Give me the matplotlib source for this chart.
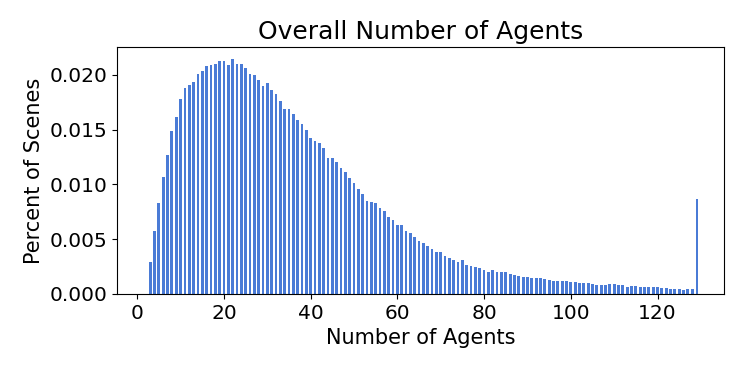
import matplotlib
matplotlib.use("Agg")
import matplotlib.pyplot as plt
import numpy as np

# Number of agents per scene (3..129) and the share of scenes with that count
num_agents = np.arange(3, 130)
percent_scenes = [
    0.00291, 0.00579, 0.00830, 0.01069, 0.01265, 0.01489, 0.01620, 0.01783,
    0.01884, 0.01905, 0.01936, 0.02010, 0.02037, 0.02080, 0.02090, 0.02104,
    0.02126, 0.02132, 0.02095, 0.02147, 0.02098, 0.02104, 0.02065, 0.02013,
    0.01997, 0.01957, 0.01900, 0.01927, 0.01859, 0.01823, 0.01762, 0.01688,
    0.01688, 0.01645, 0.01587, 0.01550, 0.01498, 0.01427, 0.01397, 0.01381,
    0.01335, 0.01241, 0.01241, 0.01207, 0.01146, 0.01118, 0.01057, 0.01017,
    0.00956, 0.00910, 0.00848, 0.00836, 0.00827, 0.00784, 0.00754, 0.00705,
    0.00677, 0.00628, 0.00634, 0.00579, 0.00558, 0.00521, 0.00484, 0.00462,
    0.00441, 0.00411, 0.00383, 0.00383, 0.00349, 0.00331, 0.00310, 0.00291,
    0.00306, 0.00264, 0.00251, 0.00248, 0.00236, 0.00221, 0.00205, 0.00221,
    0.00202, 0.00199, 0.00199, 0.00184, 0.00175, 0.00162, 0.00156, 0.00156,
    0.00147, 0.00147, 0.00147, 0.00135, 0.00123, 0.00120, 0.00120, 0.00120,
    0.00117, 0.00107, 0.00110, 0.00101, 0.00101, 0.00104, 0.00095, 0.00086,
    0.00086, 0.00080, 0.00089, 0.00089, 0.00086, 0.00083, 0.00067, 0.00077,
    0.00070, 0.00067, 0.00061, 0.00064, 0.00061, 0.00061, 0.00055, 0.00055,
    0.00046, 0.00046, 0.00046, 0.00040, 0.00043, 0.00043, 0.00870,
]

# last bin (the 128+ overflow) is drawn thinner
widths = np.full(len(num_agents), 0.65)
widths[-1] = 0.45

fig = plt.figure(figsize=(7.47, 3.74), dpi=100)
ax = fig.add_axes([0.157, 0.214, 0.812, 0.660])
ax.bar(num_agents, percent_scenes, width=widths, color="#4a7bd6")
ax.set_xlim(-4.6, 135.3)
ax.set_title("Overall Number of Agents", fontsize=18)
ax.set_xlabel("Number of Agents", fontsize=15)
ax.set_ylabel("Percent of Scenes", fontsize=15)
ax.tick_params(labelsize=14.5)
ax.yaxis.set_major_formatter(matplotlib.ticker.FormatStrFormatter("%.3f"))

fig.savefig("out.png", dpi=100)
